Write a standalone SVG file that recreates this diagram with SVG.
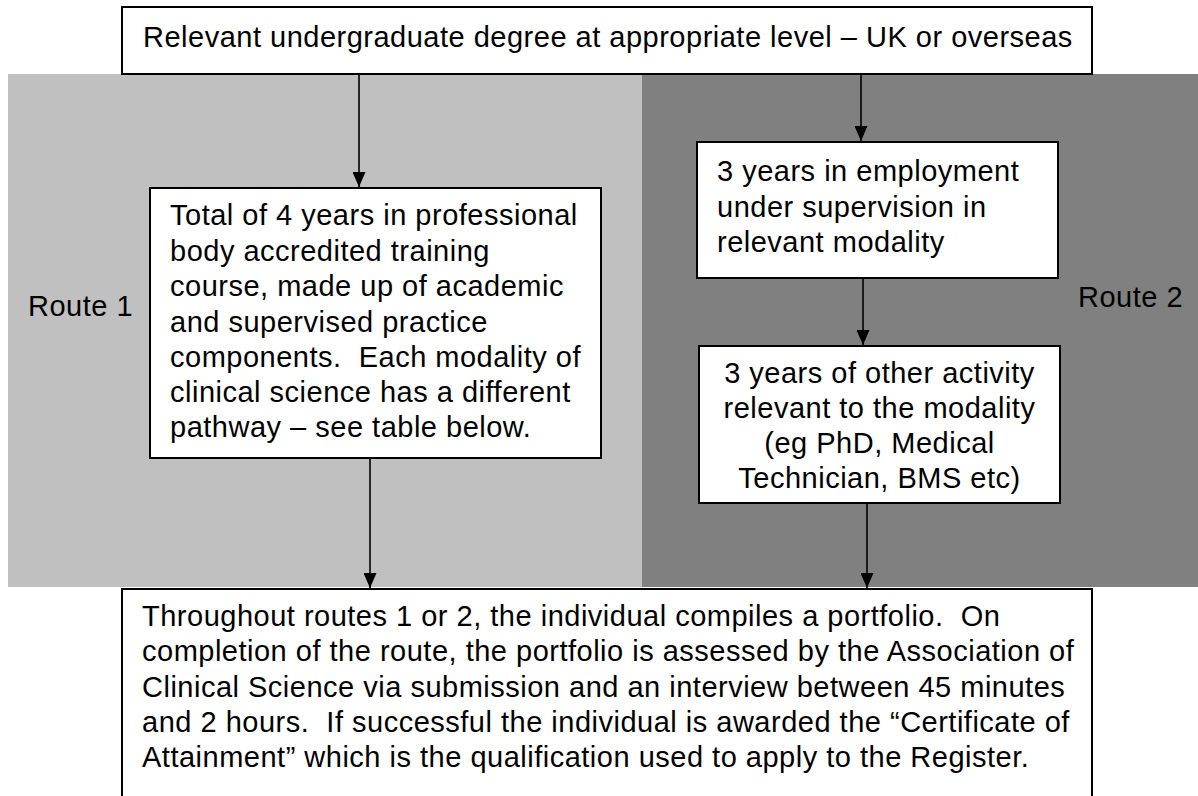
<svg xmlns="http://www.w3.org/2000/svg" width="1198" height="796" viewBox="0 0 1198 796">
  <style>
    .box { fill: #ffffff; stroke: #000000; stroke-width: 2; }
    .t { font-family: "Liberation Sans", Arial, sans-serif; font-size: 29px; letter-spacing: 0.5px; fill: #000000; white-space: pre; }
    .mid { text-anchor: middle; }
    .edge { stroke: #000000; stroke-width: 1.6; fill: none; marker-end: url(#arrow); }
  </style>
  <defs>
    <marker id="arrow" markerWidth="15" markerHeight="13" refX="15" refY="6.5" orient="auto" markerUnits="userSpaceOnUse">
      <path d="M0,0 L15,6.5 L0,13 Z" fill="#000000"/>
    </marker>
  </defs>

  <!-- route backgrounds -->
  <g id="route-bands">
    <rect x="8" y="74" width="634" height="513" fill="#c0c0c0"/>
    <rect x="642" y="74" width="556" height="513" fill="#808080"/>
    <text class="t" x="28" y="316">Route 1</text>
    <text class="t" x="1078" y="307">Route 2</text>
  </g>

  <g id="degree">
    <rect class="box" x="122" y="7" width="970" height="67"/>
    <text class="t" x="143" y="47">Relevant undergraduate degree at appropriate level – UK or overseas</text>
  </g>

  <g id="route1-course">
    <rect class="box" x="150" y="188" width="451" height="270"/>
    <text class="t" x="170" y="225">Total of 4 years in professional</text>
    <text class="t" x="170" y="260.5">body accredited training</text>
    <text class="t" x="170" y="296">course, made up of academic</text>
    <text class="t" x="170" y="331.5">and supervised practice</text>
    <text class="t" x="170" y="367">components.  Each modality of</text>
    <text class="t" x="170" y="402">clinical science has a different</text>
    <text class="t" x="170" y="437">pathway – see table below.</text>
  </g>

  <g id="route2-employment">
    <rect class="box" x="697" y="142" width="361" height="136"/>
    <text class="t" x="717" y="181">3 years in employment</text>
    <text class="t" x="717" y="216.5">under supervision in</text>
    <text class="t" x="717" y="252">relevant modality</text>
  </g>

  <g id="route2-activity">
    <rect class="box" x="699" y="346" width="361" height="157"/>
    <text class="t mid" x="879.5" y="383">3 years of other activity</text>
    <text class="t mid" x="879.5" y="418">relevant to the modality</text>
    <text class="t mid" x="879.5" y="453">(eg PhD, Medical</text>
    <text class="t mid" x="879.5" y="488">Technician, BMS etc)</text>
  </g>

  <g id="portfolio">
    <rect class="box" x="122" y="589" width="970" height="230"/>
    <text class="t" x="142" y="626">Throughout routes 1 or 2, the individual compiles a portfolio.  On</text>
    <text class="t" x="142" y="661">completion of the route, the portfolio is assessed by the Association of</text>
    <text class="t" x="142" y="696.5">Clinical Science via submission and an interview between 45 minutes</text>
    <text class="t" x="142" y="732">and 2 hours.  If successful the individual is awarded the “Certificate of</text>
    <text class="t" x="142" y="767">Attainment” which is the qualification used to apply to the Register.</text>
  </g>

  <g id="connectors">
    <line class="edge" x1="359" y1="75" x2="359" y2="187"/>
    <line class="edge" x1="861" y1="75" x2="861" y2="141"/>
    <line class="edge" x1="863" y1="279" x2="863" y2="345"/>
    <line class="edge" x1="370" y1="459" x2="370" y2="588"/>
    <line class="edge" x1="867" y1="504" x2="867" y2="588"/>
  </g>
</svg>
